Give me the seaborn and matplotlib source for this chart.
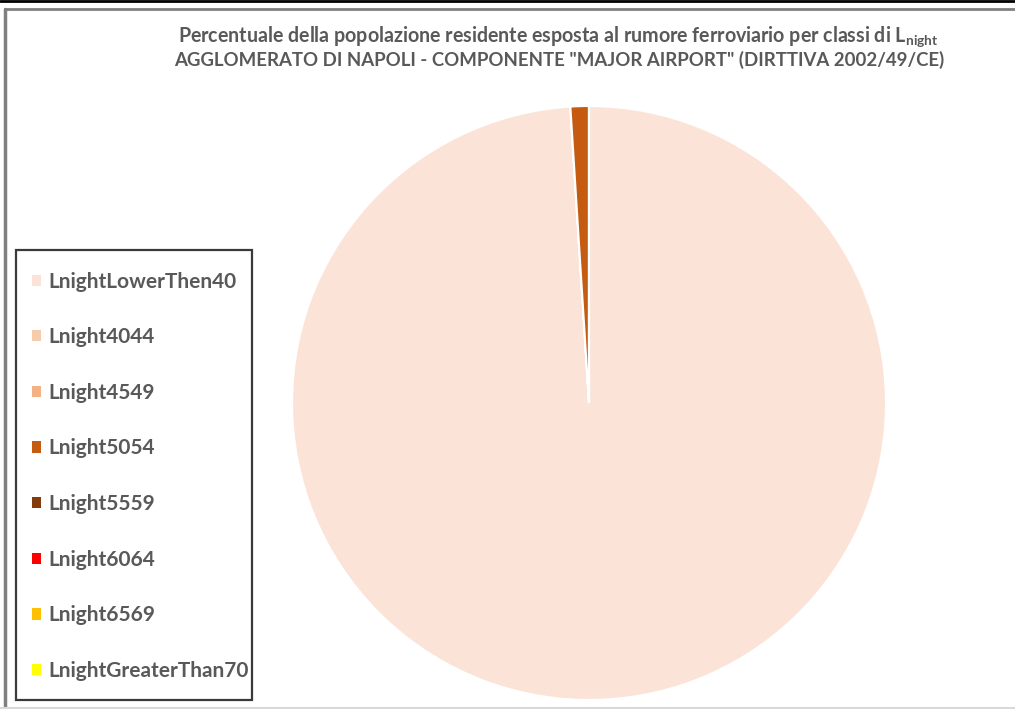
"""
Pie chart: population exposure by Lnight class (Napoli, major airport)
"""

import matplotlib
matplotlib.use('Agg')
import matplotlib.pyplot as plt
from matplotlib.patches import Patch, Rectangle
from matplotlib.lines import Line2D
import seaborn as sns

classes = ['LnightLowerThen40', 'Lnight4044', 'Lnight4549', 'Lnight5054',
           'Lnight5559', 'Lnight6064', 'Lnight6569', 'LnightGreaterThan70']
shares = [99.0, 0.0, 0.0, 1.0, 0.0, 0.0, 0.0, 0.0]
colors = ['#FBE4D7', '#F8CBAD', '#F4B183', '#C55A11',
          '#843C0C', '#FF0000', '#FFC000', '#FFFF00']

title_line1 = 'Percentuale della popolazione residente esposta al rumore ferroviario per classi di $\\mathregular{L_{night}}$'
title_line2 = 'AGGLOMERATO DI NAPOLI - COMPONENTE "MAJOR AIRPORT" (DIRTTIVA 2002/49/CE)'

sns.set_theme(style='white')
plt.rcParams['font.family'] = ['Lato', 'DejaVu Sans']
plt.rcParams['mathtext.fontset'] = 'custom'
plt.rcParams['mathtext.rm'] = 'Lato'

W, H = 1015, 709
fig = plt.figure(figsize=(W / 100, H / 100), dpi=100)
fig.patch.set_facecolor('white')

# pie area (pixel box -> figure fraction)
cx, cy, r = 589, 403, 297
ax = fig.add_axes([(cx - r) / W, (H - cy - r) / H, 2 * r / W, 2 * r / H])
ax.pie(shares, colors=colors, startangle=90, counterclock=False,
       wedgeprops=dict(edgecolor='white', linewidth=1.5))
ax.set_xlim(-1, 1)
ax.set_ylim(-1, 1)
ax.set_aspect('equal')
ax.axis('off')

# title
fig.text(558 / W, 1 - 37 / H, title_line1, ha='center', va='center',
         color='#595959', fontsize=14.1, fontweight='bold')
fig.text(559 / W, 1 - 60 / H, title_line2, ha='center', va='center',
         color='#595959', fontsize=13.4, fontweight='bold')

# legend (box drawn separately so its padding matches the original)
handles = [Patch(facecolor=c, edgecolor='none') for c in colors]
leg = fig.legend(handles, classes, loc='upper left',
                 bbox_to_anchor=(16 / W, 1 - 256 / H), bbox_transform=fig.transFigure,
                 frameon=False, fontsize=15,
                 handlelength=0.45, handleheight=0.45, handletextpad=0.35,
                 labelspacing=1.71, borderpad=0.75, borderaxespad=0)
for t in leg.get_texts():
    t.set_color('#595959')
    t.set_fontweight('bold')
fig.add_artist(Rectangle((16 / W, 1 - 700 / H), 236 / W, 450 / H, transform=fig.transFigure,
                         facecolor='none', edgecolor='#3a3a3a', linewidth=1.6))

# outer frame of the screenshot
fig.add_artist(Line2D([0, 1], [1 - 1 / H, 1 - 1 / H], color='black', linewidth=2))
fig.add_artist(Line2D([5 / W, 1], [1 - 9 / H, 1 - 9 / H], color='#7f7f7f', linewidth=2))
fig.add_artist(Line2D([5 / W, 5 / W], [0, 1 - 9 / H], color='#7f7f7f', linewidth=2.5))
fig.add_artist(Line2D([0, 1], [1 / H, 1 / H], color='#d9d9d9', linewidth=1.5))

plt.savefig('out.png', dpi=100)
plt.close()
